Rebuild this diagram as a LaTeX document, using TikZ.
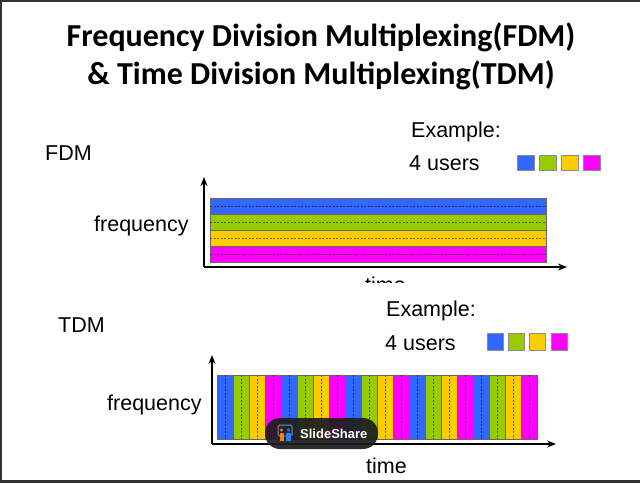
\documentclass[tikz,border=0pt]{standalone}
\usepackage{fontspec}
\setmainfont{Liberation Sans}
\newfontfamily\titlefont{Carlito}
\usetikzlibrary{arrows.meta}
\definecolor{ublue}{HTML}{3366FF}
\definecolor{ugreen}{HTML}{99CC00}
\definecolor{uyellow}{HTML}{FFCC00}
\definecolor{umag}{HTML}{FF00FF}
\begin{document}
\begin{tikzpicture}[x=1pt,y=-1pt,
 lbl/.style={font=\fontsize{21.5}{25}\selectfont, inner sep=0pt, anchor=base west},
 ttl/.style={font=\titlefont\bfseries\fontsize{32}{38}\selectfont, inner sep=0pt, anchor=base},
 axis/.style={line width=1.4pt, -{Stealth[length=9pt,width=7pt]}},
 band/.style={draw=black!60, line width=0.5pt},
 mid/.style={line width=0.45pt, dash pattern=on 2pt off 1.5pt},
 sq/.style={draw=black!45, line width=0.5pt}
]
\useasboundingbox (0,0) rectangle (640,483);
\fill[white] (0,0) rectangle (640,483);
\fill[black!80] (0,0) rectangle (640,2);
\fill[black!80] (0,0) rectangle (2,483);
\fill[black!80] (0,480) rectangle (640,483);

% title
\node[ttl] (t1) at (321,46) {Frequency Division Multiplexing(FDM)};
\node[ttl] (t2) at (321,84) {\& Time Division Multiplexing(TDM)};

% FDM
\node[lbl] (fdm) at (45,160) {FDM};
\node[lbl] (ex1) at (411,137) {Example:};
\node[lbl] (us1) at (409,170) {4 users};
\foreach \c [count=\i from 0] in {ublue,ugreen,uyellow,umag}
  \path[fill=\c, sq] ({517+22*\i},155) rectangle ({534+22*\i},170);
\node[lbl] (fq1) at (94,231) {frequency};
\foreach \c [count=\i from 0] in {ublue,ugreen,uyellow,umag} {
  \path[fill=\c, band] (210,{198+16*\i}) rectangle (546,{214+16*\i});
  \draw[mid, draw=\c!45!black] (210,{206+16*\i}) -- (546,{206+16*\i});
}
\coordinate (o1) at (204,267);
\coordinate (y1) at (204,177);
\coordinate (x1) at (567,267);
\draw[axis] (o1) -- (y1);
\draw[axis] (o1) -- (x1);
\begin{scope}
  \clip (300,272) rectangle (460,282.5);
  \node[lbl] (tm1) at (365,292) {time};
\end{scope}

% TDM
\node[lbl] (tdm) at (58,332) {TDM};
\node[lbl] (ex2) at (386,316) {Example:};
\node[lbl] (us2) at (385,350) {4 users};
\foreach \c [count=\i from 0] in {ublue,ugreen,uyellow,umag}
  \path[fill=\c, sq] ({487+21.3*\i},333) rectangle ({503+21.3*\i},350);
\node[lbl] (fq2) at (107,410) {frequency};
\foreach \g in {0,...,4}
  \foreach \c [count=\j from 0] in {ublue,ugreen,uyellow,umag} {
    \pgfmathsetmacro\xx{217+64*\g+16*\j}
    \path[fill=\c, band] (\xx,375) rectangle ({\xx+16},439);
    \draw[mid, draw=\c!45!black] ({\xx+8},375) -- ({\xx+8},439);
  }
\coordinate (o2) at (212,444);
\coordinate (y2) at (212,355);
\coordinate (x2) at (556,444);
\draw[axis] (o2) -- (y2);
\draw[axis] (o2) -- (x2);
\node[lbl] (tm2) at (366,473) {time};

% SlideShare badge
\node[fill=black!88, fill opacity=0.93, rounded corners=15pt, minimum width=113pt, minimum height=31pt, inner sep=0pt] (ss) at (321.5,433.5) {};
\node[text=white, font=\bfseries\fontsize{13}{15}\selectfont, inner sep=0pt, anchor=west] (sst) at (300,433.5) {SlideShare};
\draw[black!45, line width=1pt, rounded corners=1.5pt] (278,425) rectangle (292,436);
\fill[orange] (281.5,430) circle (1.6pt);
\fill[orange] (279.5,432.5) rectangle (284,441);
\fill[ublue!80!cyan] (288.5,430) circle (1.6pt);
\fill[ublue!80!cyan] (286,432.5) rectangle (290.5,441);
\end{tikzpicture}
\end{document}
